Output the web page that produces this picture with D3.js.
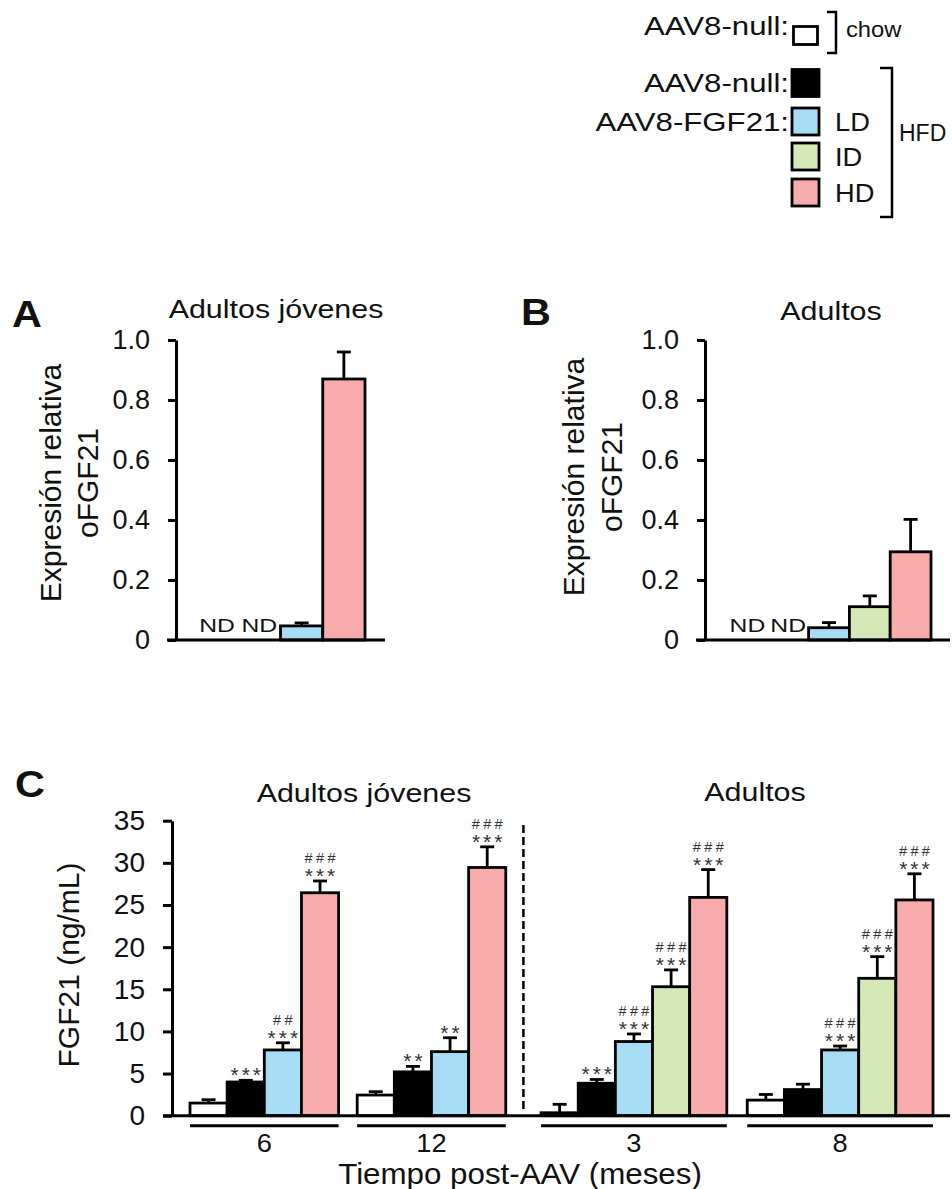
<!DOCTYPE html>
<html>
<head>
<meta charset="utf-8">
<script src="https://d3js.org/d3.v7.min.js"></script>
<style>
  body { margin: 0; background: #fff; }
  svg { display: block; font-family: "Liberation Sans", Arial, sans-serif; }
  text { fill: #111; }
</style>
</head>
<body>
<svg id="fig" width="952" height="1189"></svg>
<script>
// series (legend order)
const seriesKeys = ['chow', 'null', 'LD', 'ID', 'HD'];
const seriesColors = ['#ffffff', '#000000', '#a6dcf4', '#d5e8b8', '#f8abab'];
const legendNames = ['AAV8-null:', 'AAV8-null:', 'AAV8-FGF21:', '', ''];
const legendDoses = ['', '', 'LD', 'ID', 'HD'];

// panel A: relative expression, young adults
const aKeys = ['chow', 'null', 'LD', 'HD'];
const aMeans = [null, null, 0.047, 0.87];
const aErrs = [null, null, 0.01, 0.09];

// panel B: relative expression, adults
const bKeys = ['chow', 'null', 'LD', 'ID', 'HD'];
const bMeans = [null, null, 0.041, 0.111, 0.294];
const bErrs = [null, null, 0.017, 0.036, 0.108];

const relTicks = [0, 0.2, 0.4, 0.6, 0.8, 1.0];
const relTickLabels = ['0', '0.2', '0.4', '0.6', '0.8', '1.0'];

// panel C: serum FGF21 (ng/mL)
const cTimes = ['6', '12', '3', '8'];
const cKeys = [
  ['chow', 'null', 'LD', 'HD'],
  ['chow', 'null', 'LD', 'HD'],
  ['chow', 'null', 'LD', 'ID', 'HD'],
  ['chow', 'null', 'LD', 'ID', 'HD']
];
const cMeans = [
  [1.5, 4.0, 7.8, 26.45],
  [2.45, 5.2, 7.6, 29.45],
  [0.35, 3.85, 8.8, 15.3, 25.9],
  [1.85, 3.1, 7.8, 16.3, 25.6]
];
const cErrs = [
  [0.4, 0.2, 0.85, 1.4],
  [0.4, 0.65, 1.65, 2.45],
  [1.0, 0.45, 0.9, 2.0, 3.3],
  [0.67, 0.64, 0.47, 2.57, 3.1]
];
const cStars = [
  ['', '***', '***', '***'],
  ['', '**', '**', '***'],
  ['', '***', '***', '***', '***'],
  ['', '', '***', '***', '***']
];
const cHashes = [
  ['', '', '##', '###'],
  ['', '', '', '###'],
  ['', '', '###', '###', '###'],
  ['', '', '###', '###', '###']
];
const cTicks = [0, 5, 10, 15, 20, 25, 30, 35];

const colorOf = d3.scaleOrdinal().domain(seriesKeys).range(seriesColors);
const svg = d3.select('#fig');

function label(g, x, y, str, o) {
  const t = g.append('text')
    .attr('transform', `translate(${x},${y}) scale(${o.sx || 1},1)`)
    .attr('font-size', o.size)
    .attr('text-anchor', o.anchor || 'start')
    .text(str);
  if (o.bold) t.attr('font-weight', 'bold');
  return t;
}

function vlabel(g, x, y, str, size) {
  g.append('text')
    .attr('transform', `translate(${x},${y}) rotate(-90)`)
    .attr('font-size', size)
    .attr('text-anchor', 'middle')
    .attr('dy', '0.35em')
    .text(str);
}

function errorBar(g, xc, yTop, yCap) {
  g.append('line').attr('x1', xc).attr('x2', xc).attr('y1', yTop).attr('y2', yCap)
    .attr('stroke', '#000').attr('stroke-width', 2.8);
  g.append('line').attr('x1', xc - 7).attr('x2', xc + 7).attr('y1', yCap).attr('y2', yCap)
    .attr('stroke', '#000').attr('stroke-width', 2.8);
}

function styleAxis(ax, size) {
  ax.select('.domain').attr('stroke', '#000').attr('stroke-width', 3);
  ax.selectAll('.tick line').attr('stroke', '#000').attr('stroke-width', 3);
  ax.selectAll('.tick text').attr('font-size', size).attr('fill', '#111')
    .attr('font-family', '"Liberation Sans", Arial, sans-serif');
}

// ---------- legend ----------
const leg = svg.append('g');
const legY = [35.5, 83, 121.5, 156.5, 192.5];
seriesKeys.forEach((k, i) => {
  const small = k === 'chow';
  const w = small ? 24 : 27, h = small ? 18 : 27;
  leg.append('rect')
    .attr('x', 805.5 - w / 2).attr('y', legY[i] - h / 2)
    .attr('width', w).attr('height', h)
    .attr('fill', colorOf(k)).attr('stroke', '#000').attr('stroke-width', 2.8);
  if (legendNames[i]) {
    label(leg, 789, i === 0 ? 35 : legY[i] + 9, legendNames[i], {size: 26, sx: 1.2, anchor: 'end'});
  }
  if (legendDoses[i]) {
    label(leg, 835, legY[i] + 9, legendDoses[i], {size: 26, sx: 1.05});
  }
});
// brackets
leg.append('path').attr('d', 'M827,12H836V53H827')
  .attr('fill', 'none').attr('stroke', '#000').attr('stroke-width', 2.5);
label(leg, 846, 37, 'chow', {size: 22, sx: 1.08});
leg.append('path').attr('d', 'M880,68H892V217H880')
  .attr('fill', 'none').attr('stroke', '#000').attr('stroke-width', 2.5);
label(leg, 899, 141, 'HFD', {size: 23});

// ---------- panels A and B ----------
function relPanel(opt) {
  const g = svg.append('g');
  const y = d3.scaleLinear().domain([0, 1]).range([640, 340]);
  const x = d3.scaleBand().domain(opt.keys).range(opt.band);
  const ax = g.append('g').attr('transform', `translate(${opt.axisX},0)`)
    .call(d3.axisLeft(y).tickValues(relTicks).tickSize(8).tickSizeOuter(0).tickPadding(18)
      .tickFormat((d, i) => relTickLabels[i]));
  styleAxis(ax, 27);

  opt.keys.forEach((k, i) => {
    const m = opt.means[i];
    const xc = x(k) + x.bandwidth() / 2;
    if (m === null) {
      label(g, xc, 632, 'ND', {size: 19, sx: 1.3, anchor: 'middle'});
      return;
    }
    errorBar(g, xc, y(m), y(m + opt.errs[i]));
    g.append('rect').attr('x', x(k)).attr('y', y(m))
      .attr('width', x.bandwidth()).attr('height', y(0) - y(m))
      .attr('fill', colorOf(k)).attr('stroke', '#000').attr('stroke-width', 2.8);
  });
  g.append('line').attr('x1', opt.axisX - 9).attr('x2', opt.lineEnd)
    .attr('y1', y(0)).attr('y2', y(0)).attr('stroke', '#000').attr('stroke-width', 3);

  label(g, opt.letter[0], opt.letter[1], opt.letter[2], {size: 37, sx: 1.12, bold: true});
  label(g, opt.title[0], opt.title[1], opt.title[2], {size: 26, sx: 1.17, anchor: 'middle'});
  vlabel(g, opt.ylab[0], opt.ylab[2], 'Expresión relativa', 30);
  vlabel(g, opt.ylab[1], opt.ylab[2], 'oFGF21', 30);
}

relPanel({
  keys: aKeys, means: aMeans, errs: aErrs, band: [196, 365], axisX: 176, lineEnd: 385,
  letter: [12, 327, 'A'], title: [276, 318, 'Adultos jóvenes'], ylab: [50, 87, 483]
});
relPanel({
  keys: bKeys, means: bMeans, errs: bErrs, band: [727, 931], axisX: 705, lineEnd: 950,
  letter: [521, 325, 'B'], title: [831, 320, 'Adultos'], ylab: [573, 611, 477]
});

// ---------- panel C ----------
const gc = svg.append('g');
const yC = d3.scaleLinear().domain([0, 35]).range([1115.7, 820.7]);
const xC = d3.scaleLinear().domain([0, 20]).range([190, 933]);
const groupStart = [0, 4.5, 9.45, 15];
const slotW = xC(1) - xC(0);

const axC = gc.append('g').attr('transform', 'translate(172,0)')
  .call(d3.axisLeft(yC).tickValues(cTicks).tickSize(9).tickSizeOuter(0).tickPadding(18)
    .tickFormat(d3.format('d')));
styleAxis(axC, 28);

cTimes.forEach((t, gi) => {
  const x0 = groupStart[gi];
  cKeys[gi].forEach((k, j) => {
    const m = cMeans[gi][j], e = cErrs[gi][j];
    const xl = xC(x0 + j), xc = xl + slotW / 2;
    errorBar(gc, xc, yC(m), yC(m + e));
    gc.append('rect').attr('x', xl).attr('y', yC(m))
      .attr('width', slotW).attr('height', yC(0) - yC(m))
      .attr('fill', colorOf(k)).attr('stroke', '#000').attr('stroke-width', 2.8);
    const cap = yC(m + e);
    if (cStars[gi][j]) {
      gc.append('text').attr('x', xc + 1.5).attr('y', cap - 10 + 12)
        .attr('font-size', 21).attr('letter-spacing', 3).attr('text-anchor', 'middle')
        .style('fill', '#333').text(cStars[gi][j]);
    }
    if (cHashes[gi][j]) {
      gc.append('text').attr('x', xc + 1.7).attr('y', cap - 23 + 5)
        .attr('font-size', 14.5).attr('letter-spacing', 3.4).attr('text-anchor', 'middle')
        .style('fill', '#333').text(cHashes[gi][j]);
    }
  });
  // group underline and time label
  const n = cKeys[gi].length;
  gc.append('line').attr('x1', xC(x0)).attr('x2', xC(x0 + n))
    .attr('y1', 1125.7).attr('y2', 1125.7).attr('stroke', '#000').attr('stroke-width', 3);
  label(gc, xC(x0 + n / 2), 1152, t, {size: 26, sx: 1.05, anchor: 'middle'});
});

// baseline and divider
gc.append('line').attr('x1', 163).attr('x2', 950).attr('y1', yC(0)).attr('y2', yC(0))
  .attr('stroke', '#000').attr('stroke-width', 3);
const divX = (xC(groupStart[1] + 4) + xC(groupStart[2])) / 2;
gc.append('line').attr('x1', divX).attr('x2', divX).attr('y1', 825).attr('y2', 1113)
  .attr('stroke', '#000').attr('stroke-width', 2.5).attr('stroke-dasharray', '8,4');

label(gc, 15, 797, 'C', {size: 37, sx: 1.12, bold: true});
label(gc, 364, 802, 'Adultos jóvenes', {size: 26, sx: 1.17, anchor: 'middle'});
label(gc, 755, 801, 'Adultos', {size: 26, sx: 1.17, anchor: 'middle'});
vlabel(gc, 68, 965, 'FGF21 (ng/mL)', 30);
label(gc, 520, 1184, 'Tiempo post-AAV (meses)', {size: 29, sx: 1.08, anchor: 'middle'});
</script>
</body>
</html>
